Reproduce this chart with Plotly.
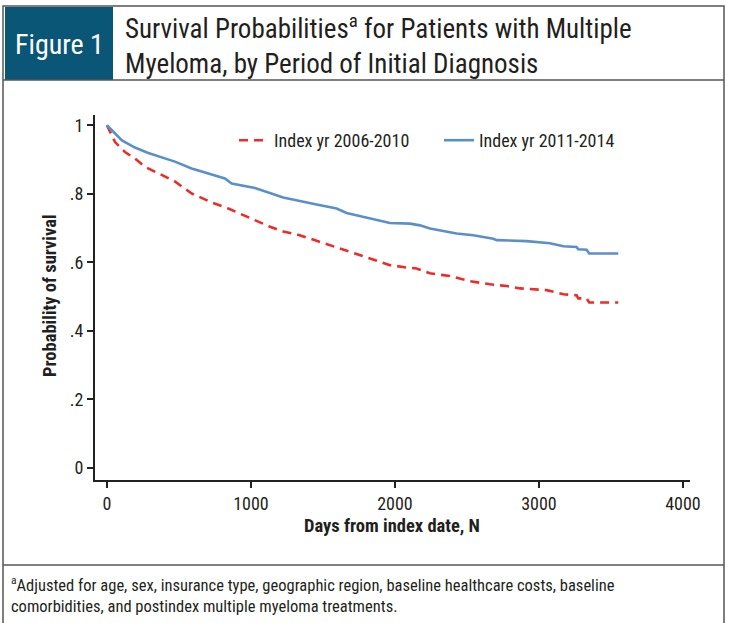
import plotly.graph_objects as go

# ---- data ----
days_2006_2010 = [0, 56, 125, 194, 264, 380, 472, 588, 727, 843, 1005, 1132, 1224, 1317, 1456,
                  1595, 1664, 1780, 1850, 1965, 2081, 2150, 2243, 2382, 2521, 2660, 2776, 2868,
                  3053, 3146, 3169, 3261, 3273, 3331, 3349, 3551]
surv_2006_2010 = [1.0, 0.951, 0.922, 0.903, 0.879, 0.854, 0.836, 0.801, 0.775, 0.757, 0.728,
                  0.704, 0.690, 0.682, 0.663, 0.643, 0.633, 0.618, 0.608, 0.592, 0.585, 0.582,
                  0.568, 0.560, 0.545, 0.536, 0.531, 0.524, 0.519, 0.509, 0.507, 0.504, 0.495,
                  0.495, 0.483, 0.483]

days_2011_2014 = [0, 35, 104, 194, 287, 472, 588, 819, 866, 1028, 1224, 1456, 1595, 1664, 1803,
                  1965, 2104, 2174, 2243, 2428, 2544, 2683, 2706, 2914, 3076, 3169, 3261, 3273,
                  3331, 3349, 3551]
surv_2011_2014 = [1.0, 0.985, 0.956, 0.935, 0.919, 0.894, 0.874, 0.845, 0.830, 0.817, 0.789,
                  0.769, 0.757, 0.744, 0.730, 0.715, 0.713, 0.708, 0.699, 0.684, 0.679, 0.669,
                  0.665, 0.662, 0.656, 0.647, 0.645, 0.638, 0.637, 0.626, 0.626]

series_names = ["Index yr 2006-2010", "Index yr 2011-2014"]
x_ticks = [0, 1000, 2000, 3000, 4000]
y_ticks = [0, 0.2, 0.4, 0.6, 0.8, 1.0]
y_tick_labels = ["0", ".2", ".4", ".6", ".8", "1"]

title_text = ("Survival Probabilities<sup>a</sup> for Patients with Multiple<br>"
              "Myeloma, by Period of Initial Diagnosis")
footnote_text = ("<sup>a</sup>Adjusted for age, sex, insurance type, geographic region, baseline healthcare costs, baseline<br>"
                 "comorbidities, and postindex multiple myeloma treatments.")

# ---- layout helpers ----
W, H = 729, 623
L, R, T, B = 95, 690, 115, 480
FONT = "Liberation Sans Narrow, Arial Narrow, Roboto Condensed, sans-serif"
TXT = "#231F20"

def px(x):
    return (x - L) / (R - L)

def py(y):
    return (B - y) / (B - T)

fig = go.Figure()
fig.add_trace(go.Scatter(x=days_2006_2010, y=surv_2006_2010, mode="lines",
                         name=series_names[0],
                         line=dict(color="#EE2B26", width=2.6, dash="9px,6px")))
fig.add_trace(go.Scatter(x=days_2011_2014, y=surv_2011_2014, mode="lines",
                         name=series_names[1],
                         line=dict(color="#5B8FCC", width=2.6)))

shapes = [
    dict(type="rect", xref="paper", yref="paper", x0=px(3), x1=px(724), y0=py(630), y1=py(6),
         line=dict(color="#555555", width=1.5), fillcolor="rgba(0,0,0,0)", layer="below"),
    dict(type="rect", xref="paper", yref="paper", x0=px(5), x1=px(113), y0=py(80), y1=py(7),
         line=dict(width=0), fillcolor="#0A5676", layer="below"),
    dict(type="line", xref="paper", yref="paper", x0=px(3), x1=px(724), y0=py(80), y1=py(80),
         line=dict(color="#555555", width=1.5)),
    dict(type="line", xref="paper", yref="paper", x0=px(3), x1=px(724), y0=py(565), y1=py(565),
         line=dict(color="#555555", width=1.5)),
]

annotations = [
    dict(text="Figure 1", xref="paper", yref="paper", x=px(59), y=py(44),
         xanchor="center", yanchor="middle", showarrow=False,
         font=dict(family=FONT, size=28, color="white")),
    dict(text=title_text, xref="paper", yref="paper", x=px(123), y=py(45),
         xanchor="left", yanchor="middle", align="left", showarrow=False,
         font=dict(family=FONT, size=27, color=TXT)),
    dict(text=footnote_text, xref="paper", yref="paper", x=px(9), y=py(594),
         xanchor="left", yanchor="middle", align="left", showarrow=False,
         font=dict(family=FONT, size=16.5, color=TXT)),
    dict(text="<b>Probability of survival</b>", xref="paper", yref="paper", x=px(50), y=py(296),
         xanchor="center", yanchor="middle", textangle=-90, showarrow=False,
         font=dict(family=FONT, size=18.5, color=TXT)),
    dict(text="<b>Days from index date, N</b>", xref="paper", yref="paper", x=px(392), y=py(526),
         xanchor="center", yanchor="middle", showarrow=False,
         font=dict(family=FONT, size=18.5, color=TXT)),
]

fig.update_layout(
    width=W, height=H,
    margin=dict(l=L, r=W - R, t=T, b=H - B, pad=0, autoexpand=False),
    paper_bgcolor="white", plot_bgcolor="white",
    font=dict(family=FONT, color=TXT),
    showlegend=True,
    legend=dict(orientation="h", x=px(234), y=py(122), xanchor="left", yanchor="top",
                bgcolor="rgba(0,0,0,0)", font=dict(family=FONT, size=18, color=TXT),
                itemwidth=30, tracegroupgap=0, entrywidth=160),
    shapes=shapes,
    annotations=annotations,
    xaxis=dict(range=[-83, 4049], tickvals=x_ticks, showgrid=False, zeroline=False,
               showline=True, linecolor="#222222", linewidth=2,
               ticks="outside", ticklen=6, tickwidth=1.5, tickcolor="#222222",
               tickfont=dict(family=FONT, size=18, color=TXT), automargin=False),
    yaxis=dict(range=[-0.035, 1.03], tickvals=y_ticks, ticktext=y_tick_labels,
               showgrid=False, zeroline=False,
               showline=True, linecolor="#222222", linewidth=2,
               ticks="outside", ticklen=6, tickwidth=1.5, tickcolor="#222222",
               tickfont=dict(family=FONT, size=18, color=TXT), automargin=False),
)

fig.write_html("out.html", config={"displayModeBar": False},
               post_script="document.body.style.margin='0';")
